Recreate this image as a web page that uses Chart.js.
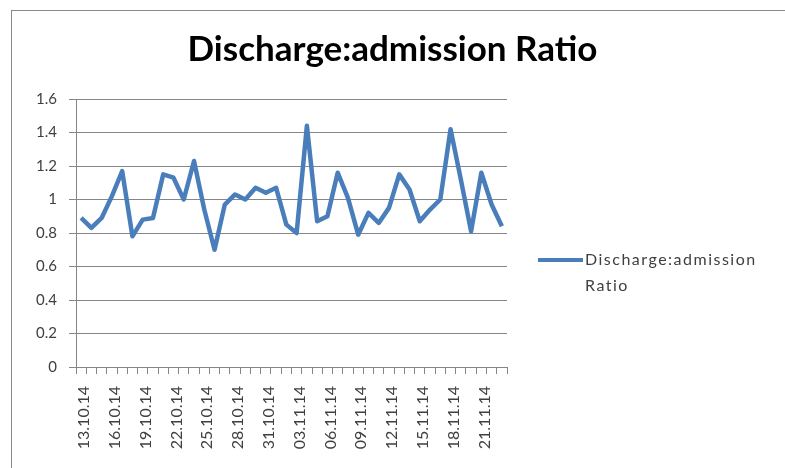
<!DOCTYPE html>
<html>
<head>
<meta charset="utf-8">
<script src="https://cdn.jsdelivr.net/npm/chart.js@4"></script>
<style>
  html, body { margin: 0; padding: 0; background: #fff; }
  #frame { position: absolute; left: 11px; top: 10px; width: 800px; height: 480px;
           border-top: 1px solid #8a8a8a; border-left: 1px solid #8a8a8a; }
  #c { position: absolute; left: 0; top: 0; }
</style>
</head>
<body>
<div id="frame"></div>
<canvas id="c" width="785" height="468"></canvas>
<script>
const chartTitle = 'Discharge:admission Ratio';
const seriesName = 'Discharge:admission Ratio';
const dates = [
  '13.10.14','14.10.14','15.10.14','16.10.14','17.10.14','18.10.14','19.10.14',
  '20.10.14','21.10.14','22.10.14','23.10.14','24.10.14','25.10.14','26.10.14',
  '27.10.14','28.10.14','29.10.14','30.10.14','31.10.14','01.11.14','02.11.14',
  '03.11.14','04.11.14','05.11.14','06.11.14','07.11.14','08.11.14','09.11.14',
  '10.11.14','11.11.14','12.11.14','13.11.14','14.11.14','15.11.14','16.11.14',
  '17.11.14','18.11.14','19.11.14','20.11.14','21.11.14','22.11.14','23.11.14'
];
const ratios = [
  0.89,0.83,0.89,1.02,1.17,0.78,0.88,0.89,1.15,1.13,
  1.00,1.23,0.94,0.70,0.97,1.03,1.00,1.07,1.04,1.07,
  0.85,0.80,1.44,0.87,0.90,1.16,1.01,0.79,0.92,0.86,
  0.95,1.15,1.06,0.87,0.94,1.00,1.42,1.12,0.81,1.16,
  0.97,0.84
];
const yTicks = [0, 0.2, 0.4, 0.6, 0.8, 1, 1.2, 1.4, 1.6];
const labelEvery = 3;

const FONT = 'Lato, "Open Sans", sans-serif';
const LINE_COLOR = '#4A7EBB';
const GRID = '#868686';
const TEXT = '#404040';

const legendPlugin = {
  id: 'wrapLegend',
  afterDraw(chart) {
    const ctx = chart.ctx;
    const ds = chart.data.datasets[0];
    const x0 = 538, y0 = 260;
    ctx.save();
    ctx.strokeStyle = ds.borderColor;
    ctx.lineWidth = 4;
    ctx.lineCap = 'butt';
    ctx.beginPath();
    ctx.moveTo(x0, y0);
    ctx.lineTo(x0 + 45, y0);
    ctx.stroke();
    ctx.fillStyle = TEXT;
    ctx.font = '16px ' + FONT;
    try { ctx.letterSpacing = '1.5px'; } catch (e) {}
    ctx.textBaseline = 'middle';
    ctx.textAlign = 'left';
    const words = ds.label.split(' ');
    words.forEach((ln, i) => ctx.fillText(ln, x0 + 47, y0 + i * 26));
    ctx.restore();
  }
};

new Chart(document.getElementById('c'), {
  type: 'line',
  data: {
    labels: dates,
    datasets: [{
      label: seriesName,
      data: ratios,
      borderColor: LINE_COLOR,
      backgroundColor: LINE_COLOR,
      borderWidth: 4.5,
      pointRadius: 0,
      tension: 0,
      fill: false,
      borderJoinStyle: 'round',
      yAxisID: 'y'
    }]
  },
  options: {
    responsive: false,
    animation: false,
    devicePixelRatio: 1,
    layout: { padding: 0 },
    plugins: {
      legend: { display: false },
      tooltip: { enabled: false },
      title: {
        display: true,
        text: chartTitle,
        color: '#000',
        font: { family: FONT, size: 35, weight: 'bold' },
        padding: { top: 29, bottom: 28 }
      }
    },
    scales: {
      x: {
        type: 'category',
        offset: true,
        grid: { display: true, drawOnChartArea: false, drawTicks: true, tickLength: 7,
                offset: true, color: GRID, lineWidth: 1 },
        border: { display: true, color: GRID, width: 1 },
        ticks: {
          autoSkip: false,
          maxRotation: 90, minRotation: 90,
          padding: 12,
          labelOffset: 3,
          color: TEXT,
          font: { family: FONT, size: 16 },
          callback: function(v, i) { return i % labelEvery === 0 ? this.getLabelForValue(v) : ''; }
        },
        afterFit(s) { s.height = 101; }
      },
      y: {
        position: 'left',
        min: 0, max: 1.6,
        afterBuildTicks(s) { s.ticks = yTicks.map(v => ({ value: v })); },
        grid: { color: GRID, lineWidth: 1, tickLength: 7, drawTicks: true },
        border: { display: true, color: GRID, width: 1 },
        ticks: {
          padding: 12,
          color: TEXT,
          font: { family: FONT, size: 15 },
          callback: v => String(v)
        },
        afterFit(s) { s.width = 76; }
      },
      legendSpace: {
        type: 'linear',
        position: 'right',
        display: true,
        grid: { display: false, drawTicks: false },
        border: { display: false },
        ticks: { display: false },
        afterFit(s) { s.width = 278; }
      }
    }
  },
  plugins: [legendPlugin]
});
</script>
</body>
</html>
